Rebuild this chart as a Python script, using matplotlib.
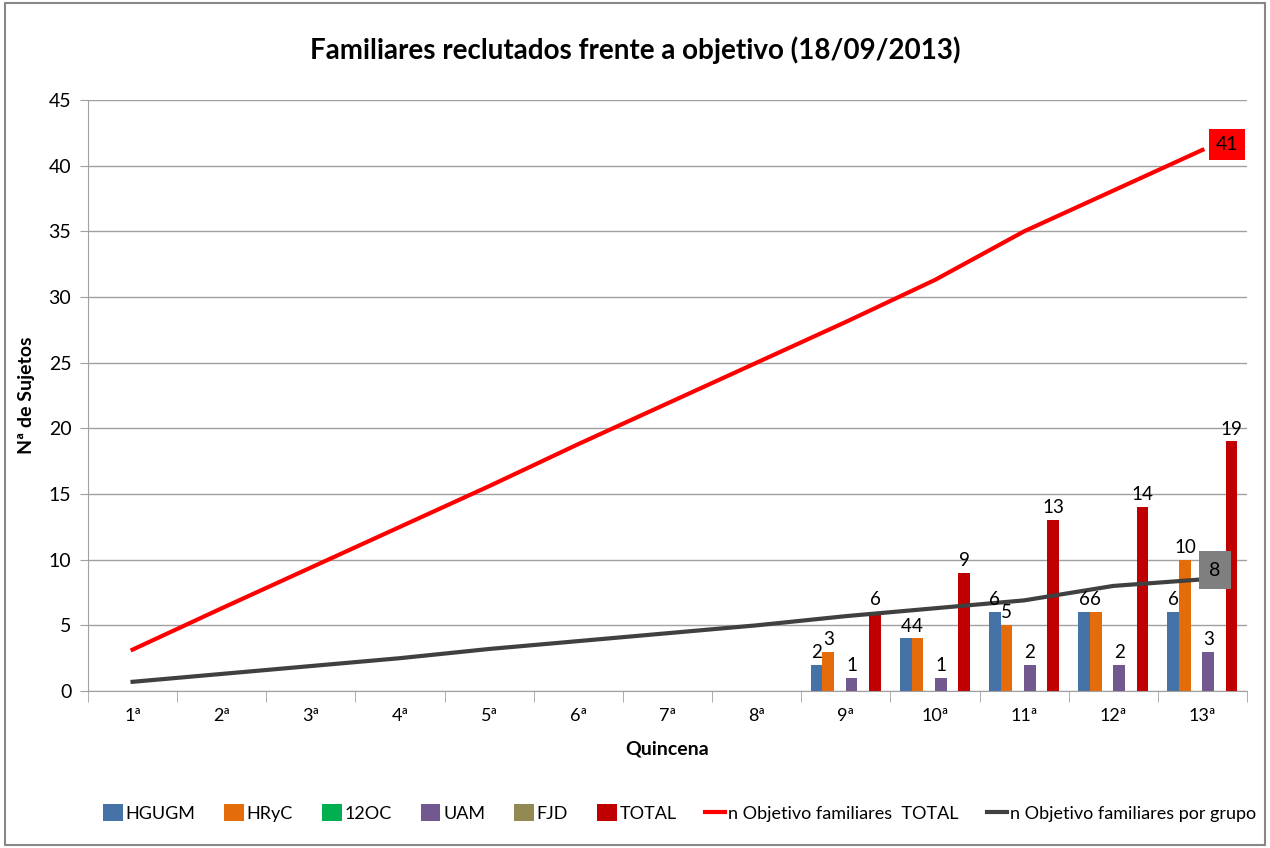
import numpy as np
import matplotlib
matplotlib.use("Agg")
from matplotlib import pyplot as plt
from matplotlib.patches import Rectangle

plt.rcParams['font.family'] = ['Lato', 'DejaVu Sans']

quincenas = ['1ª', '2ª', '3ª', '4ª', '5ª', '6ª', '7ª', '8ª', '9ª', '10ª', '11ª', '12ª', '13ª']
nan = np.nan
hgugm = [nan] * 8 + [2, 4, 6, 6, 6]
hryc = [nan] * 8 + [3, 4, 5, 6, 10]
oc12 = [nan] * 8 + [0, 0, 0, 0, 0]
uam = [nan] * 8 + [1, 1, 2, 2, 3]
fjd = [nan] * 8 + [0, 0, 0, 0, 0]
total = [nan] * 8 + [6, 9, 13, 14, 19]
obj_total = [3.15, 6.3, 9.4, 12.5, 15.6, 18.8, 21.9, 25.0, 28.1, 31.3, 35.0, 38.1, 41.2]
obj_grupo = [0.7, 1.3, 1.9, 2.5, 3.2, 3.8, 4.4, 5.0, 5.7, 6.3, 6.9, 8.0, 8.5]

series = [('HGUGM', hgugm, '#4572A7'),
          ('HRyC', hryc, '#E46C0A'),
          ('12OC', oc12, '#00B050'),
          ('UAM', uam, '#71588F'),
          ('FJD', fjd, '#938953'),
          ('TOTAL', total, '#C00000')]

fig = plt.figure(figsize=(12.7, 8.48), dpi=100)
ax = fig.add_axes([88 / 1270, 1 - 691 / 848, (1247 - 88) / 1270, (691 - 100) / 848])

x = np.arange(len(quincenas))
w = 0.131
for i, (name, vals, col) in enumerate(series):
    pos = x + (i - 2.5) * w
    ax.bar(pos, vals, w, color=col, label=name, zorder=2)
    for p, v in zip(pos, vals):
        if not np.isnan(v) and v > 0:
            ax.text(p, v + 0.3, '%d' % v, ha='center', va='bottom', fontsize=13.5, zorder=5)

ax.plot(x, obj_total, color='#FF0000', lw=3, label='n Objetivo familiares  TOTAL', zorder=3)
ax.plot(x, obj_grupo, color='#404040', lw=3, label='n Objetivo familiares por grupo', zorder=3)

ax.text(x[-1] + 0.28, obj_total[-1] + 0.4, '41', fontsize=14, ha='center', va='center',
        bbox=dict(boxstyle='square,pad=0.35', fc='#FF0000', ec='none'), zorder=6)
ax.text(x[-1] + 0.14, obj_grupo[-1] + 0.7, '8', fontsize=14, ha='center', va='center',
        bbox=dict(boxstyle='square,pad=0.55', fc='#7F7F7F', ec='none'), zorder=6)

ax.set_xlim(-0.5, len(quincenas) - 0.5)
ax.set_ylim(0, 45)
ax.set_yticks(np.arange(0, 46, 5))
ax.yaxis.grid(True, color='#A0A0A0', lw=1)
ax.set_axisbelow(True)
ax.set_xticks(x)
ax.set_xticklabels(quincenas, fontsize=13)
ax.set_xticks(np.arange(-0.5, len(quincenas)), minor=True)
ax.tick_params(axis='x', which='major', length=0, pad=12)
ax.tick_params(axis='x', which='minor', length=8, color='#A0A0A0', direction='out')
ax.tick_params(axis='y', labelsize=14, length=6, color='#A0A0A0', pad=6)
for s in ['top', 'right']:
    ax.spines[s].set_visible(False)
ax.spines['left'].set_color('#A0A0A0')
ax.spines['bottom'].set_color('#A0A0A0')

ax.set_xlabel('Quincena', fontsize=14, fontweight='bold', labelpad=12)
ax.set_ylabel('Nª de Sujetos', fontsize=14, fontweight='bold', labelpad=10)
fig.text(0.5, 1 - 50 / 848, 'Familiares reclutados frente a objetivo (18/09/2013)',
         fontsize=20, fontweight='bold', ha='center', va='center')

handles, labels = ax.get_legend_handles_labels()
order = [2, 3, 4, 5, 6, 7, 0, 1]
fig.legend([handles[k] for k in order], [labels[k] for k in order],
           loc='center', bbox_to_anchor=(0.535, 1 - 813 / 848), ncol=8, frameon=False,
           fontsize=13, handlelength=1.1, handleheight=1.0, handletextpad=0.15,
           columnspacing=1.6, borderaxespad=0)

fig.patches.append(Rectangle((0.004, 0.004), 0.992, 0.992, transform=fig.transFigure,
                             fill=False, ec='#888888', lw=1.5))

fig.savefig('out.png', dpi=100)
